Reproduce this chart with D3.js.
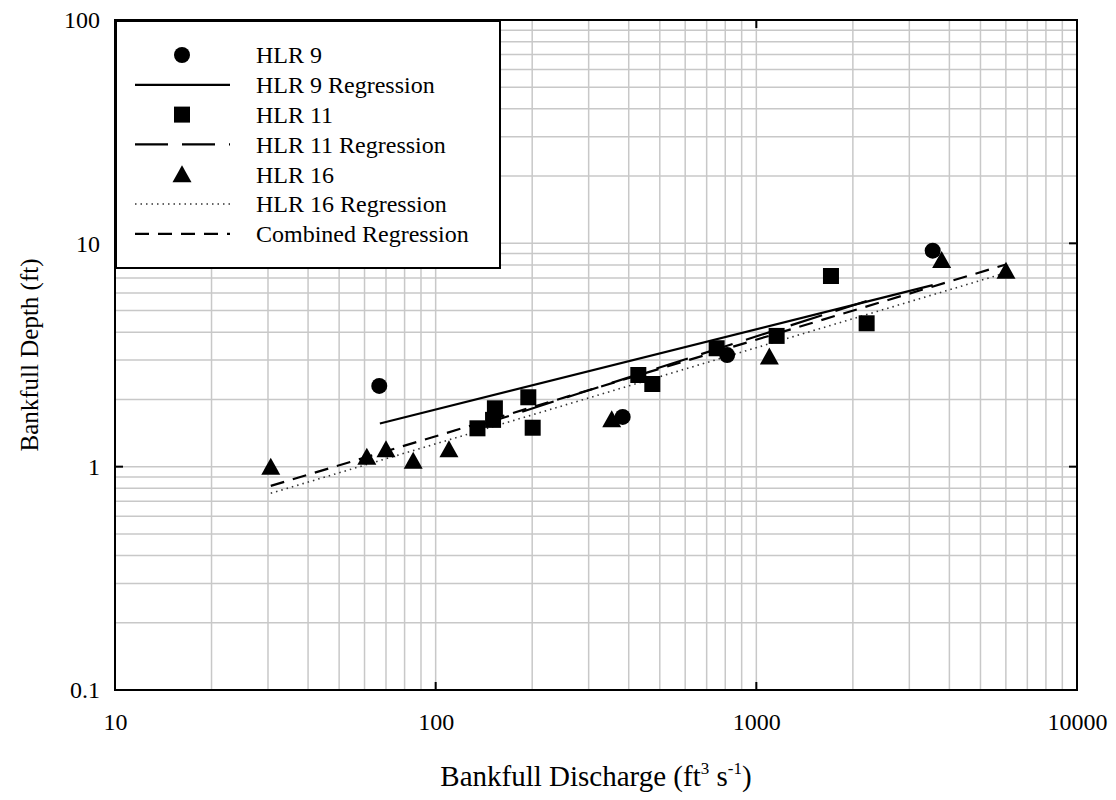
<!DOCTYPE html>
<html>
<head>
<meta charset="utf-8">
<script src="https://cdn.jsdelivr.net/npm/d3@7/dist/d3.min.js"></script>
<style>
html,body{margin:0;padding:0;background:#fff;}
svg{display:block;}
text{font-family:"Liberation Serif","Times New Roman",serif;fill:#000;}
</style>
</head>
<body>
<svg id="chart" width="1116" height="800"></svg>
<script>
// ---- data ----
const xTickValues = [10, 100, 1000, 10000];
const xTickLabels = ["10", "100", "1000", "10000"];
const yTickValues = [0.1, 1, 10, 100];
const yTickLabels = ["0.1", "1", "10", "100"];

const hlr9Q = [66.7, 383, 811, 3548];
const hlr9D = [2.30, 1.67, 3.16, 9.27];

const hlr11Q = [135, 151, 153, 194.5, 200.7, 428.5, 473.8, 752, 1157, 1709, 2208];
const hlr11D = [1.485, 1.62, 1.825, 2.045, 1.494, 2.573, 2.345, 3.39, 3.85, 7.14, 4.385];

const hlr16Q = [30.6, 61, 70, 85.1, 110, 354, 1098, 3784, 6006];
const hlr16D = [1.0, 1.108, 1.196, 1.064, 1.196, 1.63, 3.11, 8.42, 7.54];

const reg9Q = [67, 3548];
const reg9D = [1.56, 6.5];
const reg11Q = [135, 2208];
const reg11D = [1.52, 5.52];
const reg16Q = [30.6, 6006];
const reg16D = [0.76, 7.38];
const regAllQ = [30.6, 6006];
const regAllD = [0.82, 8.04];

const legendLabels = ["HLR 9", "HLR 9 Regression", "HLR 11", "HLR 11 Regression", "HLR 16", "HLR 16 Regression", "Combined Regression"];

// ---- layout ----
const L = 115, R = 1077, T = 20, B = 690;
const svg = d3.select("#chart");

const x = d3.scaleLog().domain([10, 10000]).range([L, R]);
const y = d3.scaleLog().domain([0.1, 100]).range([B, T]);

// grid
const gx = [], gy = [];
for (let d = 10; d < 10000; d *= 10) for (let k = 1; k <= 9; k++) gx.push(d * k);
for (let d = 0.1; d < 100; d *= 10) for (let k = 1; k <= 9; k++) gy.push(d * k);

const grid = svg.append("g");
grid.selectAll("line.gx").data(gx.filter(v => v > 10)).enter().append("line")
  .attr("x1", d => x(d)).attr("x2", d => x(d)).attr("y1", T).attr("y2", B)
  .attr("stroke", "#c8c8c8").attr("stroke-width", 1.5);
grid.selectAll("line.gy").data(gy.filter(v => v > 0.1 + 1e-9)).enter().append("line")
  .attr("y1", d => y(d)).attr("y2", d => y(d)).attr("x1", L).attr("x2", R)
  .attr("stroke", "#c8c8c8").attr("stroke-width", 1.5);

// axes via d3 axis (labels)
const xAxis = d3.axisBottom(x).tickValues(xTickValues).tickFormat((d, i) => xTickLabels[i]).tickSize(0).tickPadding(23);
svg.append("g").attr("transform", `translate(0,${B})`).call(xAxis)
  .call(g => g.select(".domain").remove())
  .selectAll("text").attr("font-size", 24).attr("font-family", "Liberation Serif");
const yAxis = d3.axisLeft(y).tickValues(yTickValues).tickFormat((d, i) => yTickLabels[i]).tickSize(0).tickPadding(15);
svg.append("g").attr("transform", `translate(${L},0)`).call(yAxis)
  .call(g => g.select(".domain").remove())
  .selectAll("text").attr("font-size", 24).attr("font-family", "Liberation Serif");

// major inward ticks on all sides
const tk = svg.append("g").attr("stroke", "#000").attr("stroke-width", 2);
xTickValues.forEach(v => {
  tk.append("line").attr("x1", x(v)).attr("x2", x(v)).attr("y1", B).attr("y2", B - 8);
  tk.append("line").attr("x1", x(v)).attr("x2", x(v)).attr("y1", T).attr("y2", T + 8);
});
yTickValues.forEach(v => {
  tk.append("line").attr("y1", y(v)).attr("y2", y(v)).attr("x1", L).attr("x2", L + 8);
  tk.append("line").attr("y1", y(v)).attr("y2", y(v)).attr("x1", R).attr("x2", R - 8);
});

// regressions
const line = d3.line().x(d => x(d[0])).y(d => y(d[1]));
function drawReg(qs, ds, opts) {
  svg.append("path").datum(qs.map((q, i) => [q, ds[i]]))
    .attr("d", line).attr("fill", "none")
    .attr("stroke", opts.color || "#000").attr("stroke-width", opts.width)
    .attr("stroke-dasharray", opts.dash || null);
}
const styles = {
  r9: { width: 2.2 },
  r11: { width: 2.2, dash: "33,14" },
  r16: { width: 1.6, dash: "1.5,4", color: "#333" },
  rAll: { width: 2.2, dash: "14,9" }
};
drawReg(reg16Q, reg16D, styles.r16);
drawReg(regAllQ, regAllD, styles.rAll);
drawReg(reg11Q, reg11D, styles.r11);
drawReg(reg9Q, reg9D, styles.r9);

// markers
function circle(g, cx, cy) { g.append("circle").attr("cx", cx).attr("cy", cy).attr("r", 8).attr("fill", "#000"); }
function square(g, cx, cy) { g.append("rect").attr("x", cx - 8).attr("y", cy - 8).attr("width", 16).attr("height", 16).attr("fill", "#000"); }
function tri(g, cx, cy) { g.append("path").attr("d", `M${cx},${cy - 9}L${cx + 9.5},${cy + 8}L${cx - 9.5},${cy + 8}Z`).attr("fill", "#000"); }

const mk = svg.append("g");
hlr16Q.forEach((q, i) => tri(mk, x(q), y(hlr16D[i])));
hlr11Q.forEach((q, i) => square(mk, x(q), y(hlr11D[i])));
hlr9Q.forEach((q, i) => circle(mk, x(q), y(hlr9D[i])));

// plot border
svg.append("rect").attr("x", L).attr("y", T).attr("width", R - L).attr("height", B - T)
  .attr("fill", "none").attr("stroke", "#000").attr("stroke-width", 2);

// legend
const lg = svg.append("g");
lg.append("rect").attr("x", 116).attr("y", 21).attr("width", 384).attr("height", 247)
  .attr("fill", "#fff").attr("stroke", "#000").attr("stroke-width", 2);
const rowY0 = 55, rowDy = 29.8, symX = 182, lx1 = 135, lx2 = 230, textX = 256;
legendLabels.forEach((lab, i) => {
  const cy = rowY0 + i * rowDy;
  if (i === 0) circle(lg, symX, cy);
  if (i === 2) square(lg, symX, cy);
  if (i === 4) tri(lg, symX, cy);
  const st = [null, styles.r9, null, styles.r11, null, styles.r16, styles.rAll][i];
  if (st) {
    lg.append("line").attr("x1", lx1).attr("x2", lx2).attr("y1", cy).attr("y2", cy)
      .attr("stroke", st.color || "#000").attr("stroke-width", st.width)
      .attr("stroke-dasharray", st.dash || null);
  }
  lg.append("text").attr("x", textX).attr("y", cy).attr("dy", "0.35em")
    .attr("font-size", 24).text(lab);
});

// axis titles
const xt = svg.append("text").attr("x", (L + R) / 2).attr("y", 786).attr("text-anchor", "middle").attr("font-size", 29);
xt.append("tspan").text("Bankfull Discharge (ft");
xt.append("tspan").attr("font-size", 17).attr("dy", -12).text("3");
xt.append("tspan").attr("dy", 12).text(" s");
xt.append("tspan").attr("font-size", 17).attr("dy", -12).text("-1");
xt.append("tspan").attr("dy", 12).text(")");

svg.append("text").attr("transform", `translate(38,${(T + B) / 2}) rotate(-90)`)
  .attr("text-anchor", "middle").attr("font-size", 25).text("Bankfull Depth (ft)");
</script>
</body>
</html>
